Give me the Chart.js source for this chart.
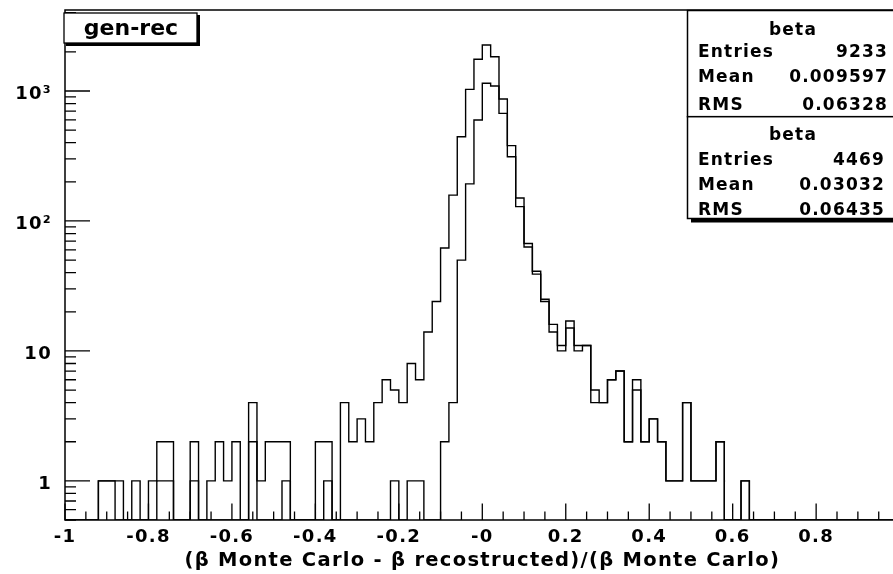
<!DOCTYPE html>
<html>
<head>
<meta charset="utf-8">
<script src="https://cdn.jsdelivr.net/npm/chart.js@4.4.1/dist/chart.umd.min.js"></script>
<style>
  html, body { margin: 0; padding: 0; background: #fff; overflow: hidden; }
  #wrap { width: 893px; height: 574px; overflow: hidden; }
</style>
</head>
<body>
<div id="wrap"><canvas id="histo" width="910" height="574"></canvas></div>
<script>
// histogram range, 100 bins of 0.02
const X_RANGE = [-1, 1];
const Y_RANGE = [0.5, 4200];

// first "beta" histogram (Entries 9233)
const BETA_1 = [
  0, 0, 0, 0, 1, 1, 1, 0, 1, 0,
  1, 2, 2, 0, 0, 2, 0, 1, 2, 1,
  2, 0, 4, 1, 2, 2, 2, 0, 0, 0,
  2, 2, 0, 4, 2, 3, 2, 4, 6, 5,
  4, 8, 6, 14, 24, 62, 158, 445, 1030, 1753,
  2259, 1836, 868, 380, 150, 67, 41, 25, 16, 11,
  17, 11, 11, 5, 4, 6, 7, 2, 6, 2,
  3, 2, 1, 1, 4, 1, 1, 1, 2, 0,
  0, 1, 0, 0, 0, 0, 0, 0, 0, 0,
  0, 0, 0, 0, 0, 0, 0, 0, 0, 0
];

// second "beta" histogram (Entries 4469)
const BETA_2 = [
  0, 0, 0, 0, 1, 1, 0, 0, 0, 0,
  0, 1, 1, 0, 0, 1, 0, 0, 0, 0,
  0, 0, 2, 0, 0, 0, 1, 0, 0, 0,
  0, 1, 0, 0, 0, 0, 0, 0, 0, 1,
  0, 1, 1, 0, 0, 2, 4, 50, 193, 598,
  1146, 1092, 673, 312, 129, 63, 39, 24, 14, 10,
  15, 10, 11, 4, 4, 6, 7, 2, 5, 2,
  3, 2, 1, 1, 4, 1, 1, 1, 2, 0,
  0, 1, 0, 0, 0, 0, 0, 0, 0, 0,
  0, 0, 0, 0, 0, 0, 0, 0, 0, 0
];

const X_MAJOR = [-1, -0.8, -0.6, -0.4, -0.2, 0, 0.2, 0.4, 0.6, 0.8, 1];
const X_LABELS = ['-1', '-0.8', '-0.6', '-0.4', '-0.2', '-0', '0.2', '0.4', '0.6', '0.8', ''];
const Y_MAJOR = [1, 10, 100, 1000];
const Y_LABELS = ['1', '10', '10²', '10³'];

const STAT_NAMES = ['Entries', 'Mean', 'RMS'];
const STATS_1 = ['9233', '0.009597', '0.06328'];
const STATS_2 = ['4469', '0.03032', '0.06435'];
const TITLE = 'gen-rec';
const X_TITLE = '(β Monte Carlo - β recostructed)/(β Monte Carlo)';

function outline(counts) {
  const n = counts.length;
  const w = (X_RANGE[1] - X_RANGE[0]) / n;
  const pts = counts.map((c, i) => ({ x: X_RANGE[0] + i * w, y: c > 0 ? c : Y_RANGE[0] }));
  pts.push({ x: X_RANGE[1], y: pts[n - 1].y });
  return pts;
}

// minor ticks every 0.05 on x, 2..9 per decade on y
const xTicks = [];
for (let i = 0; i <= 40; i++) xTicks.push(Math.round((X_RANGE[0] + i * 0.05) * 100) / 100);
const yTicks = [];
for (let d = 0.1; d <= 1000; d *= 10) {
  for (let m = 1; m <= 9; m++) {
    const v = Math.round(m * d * 10) / 10;
    if (v >= Y_RANGE[0] && v <= Y_RANGE[1]) yTicks.push(v);
  }
}

const FONT = 'DejaVu Sans';

const rootStyle = {
  id: 'rootStyle',
  beforeDraw(chart) {
    chart.ctx.letterSpacing = '1.3px';
  },
  afterDatasetsDraw(chart) {
    const { ctx, chartArea: a, scales: { x, y } } = chart;
    ctx.save();
    ctx.strokeStyle = '#000';
    ctx.lineWidth = 1.5;
    ctx.strokeRect(a.left, a.top, a.right - a.left, a.bottom - a.top);
    ctx.lineWidth = 1.3;
    ctx.beginPath();
    xTicks.forEach(v => {
      const px = x.getPixelForValue(v);
      const len = X_MAJOR.some(m => Math.abs(m - v) < 1e-6) ? 16.5 : 8.5;
      ctx.moveTo(px, a.bottom);
      ctx.lineTo(px, a.bottom - len);
    });
    yTicks.forEach(v => {
      const py = y.getPixelForValue(v);
      const len = Y_MAJOR.includes(v) ? 25 : 11;
      ctx.moveTo(a.left, py);
      ctx.lineTo(a.left + len, py);
    });
    ctx.stroke();
    ctx.restore();
  },
  afterDraw(chart) {
    const ctx = chart.ctx;
    ctx.save();
    ctx.strokeStyle = '#000';
    ctx.fillStyle = '#000';

    // title box with shadow
    ctx.fillRect(66, 15, 134, 31);
    ctx.fillStyle = '#fff';
    ctx.fillRect(64, 13, 133, 30);
    ctx.lineWidth = 1.3;
    ctx.strokeRect(64, 13, 133, 30);
    ctx.fillStyle = '#000';
    ctx.letterSpacing = '0px';
    ctx.font = 'bold 22px "' + FONT + '"';
    ctx.textAlign = 'center';
    ctx.textBaseline = 'alphabetic';
    ctx.fillText(TITLE, 131, 35);

    function statBox(top, bottom, stats, baselines, valueRight) {
      ctx.fillStyle = '#000';
      ctx.fillRect(691, top + 4, 220, bottom - top);
      ctx.fillStyle = '#fff';
      ctx.fillRect(687.5, top, 220, bottom - top);
      ctx.lineWidth = 1.5;
      ctx.strokeRect(687.5, top, 220, bottom - top);
      ctx.fillStyle = '#000';
      ctx.font = 'bold 17px "' + FONT + '"';
      ctx.letterSpacing = '1.2px';
      ctx.textBaseline = 'alphabetic';
      ctx.textAlign = 'center';
      ctx.fillText('beta', 793, baselines[0]);
      STAT_NAMES.forEach((name, i) => {
        ctx.textAlign = 'left';
        ctx.fillText(name, 698, baselines[i + 1]);
        ctx.textAlign = 'right';
        ctx.fillText(stats[i], valueRight, baselines[i + 1]);
      });
    }
    statBox(10.5, 116.7, STATS_1, [35, 56.5, 81.5, 109.5], 888);
    statBox(116.7, 218.5, STATS_2, [140, 165, 190, 215], 885);
    ctx.restore();
  }
};

new Chart(document.getElementById('histo'), {
  type: 'line',
  data: {
    datasets: [
      { label: 'beta', data: outline(BETA_1), stepped: true, borderColor: '#000', borderWidth: 1.4, pointRadius: 0, fill: false },
      { label: 'beta', data: outline(BETA_2), stepped: true, borderColor: '#000', borderWidth: 1.4, pointRadius: 0, fill: false }
    ]
  },
  options: {
    responsive: false,
    animation: false,
    devicePixelRatio: 1,
    layout: { padding: { left: 0, right: 10.4, top: 10, bottom: 0 } },
    plugins: { legend: { display: false }, tooltip: { enabled: false } },
    scales: {
      x: {
        type: 'linear',
        min: X_RANGE[0],
        max: X_RANGE[1],
        afterFit(s) { s.height = 54; s.paddingLeft = 0; s.paddingRight = 0; },
        afterBuildTicks(s) { s.ticks = X_MAJOR.map(v => ({ value: v })); },
        grid: { display: false, drawTicks: false },
        border: { display: false },
        ticks: {
          autoSkip: false,
          maxRotation: 0,
          padding: 7,
          color: '#000',
          font: { family: FONT, size: 18, weight: 'bold' },
          callback: (v, i) => X_LABELS[i]
        },
        title: {
          display: true,
          text: X_TITLE,
          color: '#000',
          font: { family: FONT, size: 19.5, weight: 'bold' },
          padding: { top: 0, bottom: 1.5 }
        }
      },
      y: {
        type: 'logarithmic',
        min: Y_RANGE[0],
        max: Y_RANGE[1],
        afterFit(s) { s.width = 65; s.paddingTop = 0; s.paddingBottom = 0; },
        afterBuildTicks(s) { s.ticks = Y_MAJOR.map(v => ({ value: v })); },
        grid: { display: false, drawTicks: false },
        border: { display: false },
        ticks: {
          autoSkip: false,
          padding: 13,
          labelOffset: 3,
          color: '#000',
          font: { family: FONT, size: 18, weight: 'bold' },
          callback: (v, i) => Y_LABELS[i]
        }
      }
    }
  },
  plugins: [rootStyle]
});
</script>
</body>
</html>
